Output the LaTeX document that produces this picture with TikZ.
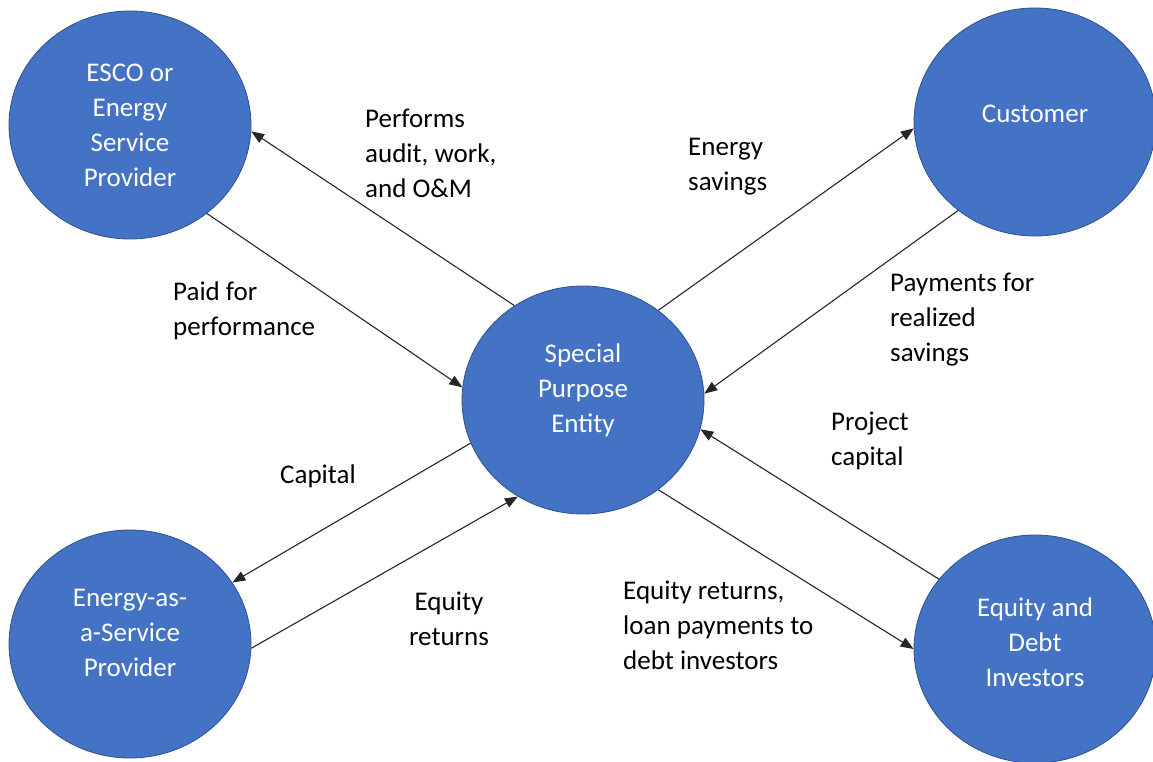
\documentclass[tikz,border=0pt]{standalone}
\usepackage{fontspec}
\setmainfont{Carlito}
\usetikzlibrary{shapes.geometric, arrows.meta, positioning}
\definecolor{entityblue}{HTML}{4472C4}
\definecolor{entityedge}{HTML}{2F528F}

\begin{document}
\begin{tikzpicture}[x=1pt, y=-1pt,
		entity/.style={ellipse, fill=entityblue, draw=entityedge, line width=0.8pt,
			minimum width=242pt, minimum height=228pt, inner sep=0pt, text depth=23pt,
			text=white, align=center, font=\fontsize{27}{35}\selectfont},
		flow/.style={draw=black!85, line width=1.1pt, -{Triangle[length=13pt, width=10pt]}},
		lbl/.style={anchor=west, align=left, inner sep=0pt, font=\fontsize{27}{35}\selectfont}]
				\useasboundingbox (0,0) rectangle (1153,762);
				% the five parties
				\node[entity, text depth={}] (esco) at (130,125) {ESCO or\\Energy\\Service\\Provider};
				\node[entity, text depth=17pt] (cust) at (1035,122) {Customer};
				\node[entity] (spe) at (583,400) {Special\\Purpose\\Entity};
				\node[entity] (eaas) at (130,644) {Energy-as-\\a-Service\\Provider};
				\node[entity, text depth=13pt] (inv) at (1035,649) {Equity and\\Debt\\Investors};
				% flows
				\draw[flow] (spe.126) -- (esco.-3);
				\draw[flow] (esco.-49) -- (spe.174);
				\draw[flow] (spe.50) -- (cust.183);
				\draw[flow] (cust.229) -- (spe.3);
				\draw[flow] (inv.144) -- (spe.-14);
				\draw[flow] (spe.-50) -- (inv.180);
				\draw[flow] (spe.201) -- (eaas.31);
				\draw[flow] (eaas.-2) -- (spe.236);
				% flow labels
				\node[lbl] (perf) at (365,153) {Performs\\audit, work,\\and O\&M};
				\node[lbl] (save) at (688,167) {Energy\\savings};
				\node[lbl] (paid) at (173,311) {Paid for\\performance};
				\node[lbl] (pay) at (890,320) {Payments for\\realized\\savings};
				\node[lbl] (proj) at (831,441) {Project\\capital};
				\node[lbl] (cap) at (280,476) {Capital};
				\node[lbl, anchor=center, align=center] (eqr) at (449,619) {Equity\\returns};
				\node[lbl] (loan) at (623,625) {Equity returns,\\loan payments to\\debt investors};
\end{tikzpicture}
\end{document}
